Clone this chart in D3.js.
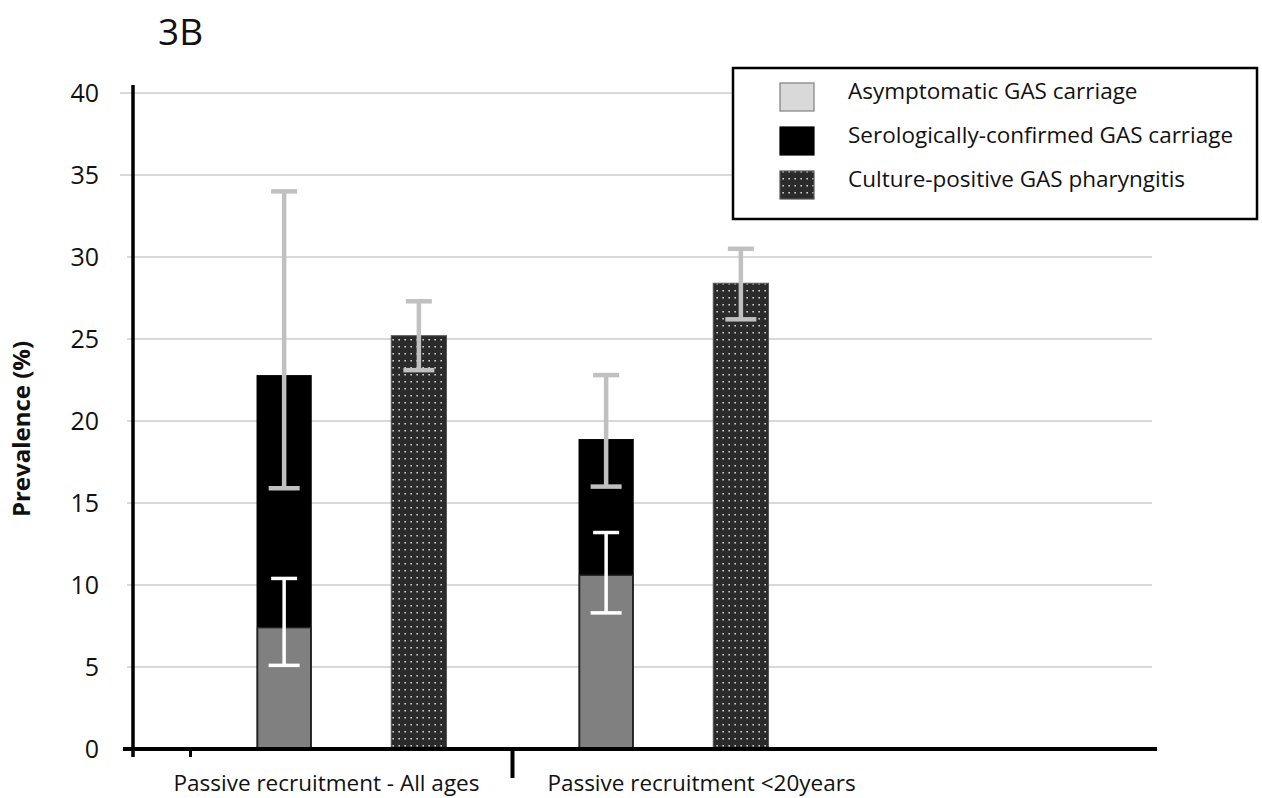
<!DOCTYPE html>
<html>
<head>
<meta charset="utf-8">
<script src="https://cdn.jsdelivr.net/npm/d3@7"></script>
<style>
  html, body { margin: 0; padding: 0; background: #fff; }
  svg { display: block; font-family: "Open Sans", "Noto Sans", sans-serif; }
</style>
</head>
<body>
<div id="chart-area"></div>
<script>
// Chart data
const groups = ['Passive recruitment - All ages', 'Passive recruitment <20years'];
const barTypes = ['carriage', 'culture'];

const asymptomatic = [7.4, 10.6];
const asymptomaticLow = [5.1, 8.3];
const asymptomaticHigh = [10.4, 13.2];

const serological = [22.8, 18.9];
const serologicalLow = [15.9, 16.0];
const serologicalHigh = [34.0, 22.8];

const culture = [25.2, 28.4];
const cultureLow = [23.1, 26.2];
const cultureHigh = [27.3, 30.5];

const yTicks = [0, 5, 10, 15, 20, 25, 30, 35, 40];
const legendLabels = ['Asymptomatic GAS carriage', 'Serologically-confirmed GAS carriage', 'Culture-positive GAS pharyngitis'];

const width = 1262;
const height = 798;

const svg = d3.select('#chart-area')
    .append('svg')
    .attr('width', width)
    .attr('height', height);

// dotted fill used for the culture bars
const defs = svg.append('defs');
const pat = defs.append('pattern')
    .attr('id', 'dots')
    .attr('patternUnits', 'userSpaceOnUse')
    .attr('width', 6)
    .attr('height', 7);
pat.append('rect').attr('width', 6).attr('height', 7).attr('fill', '#2b2b2b');
pat.append('rect').attr('x', 2.4).attr('y', 3).attr('width', 1.5).attr('height', 1.5).attr('fill', '#e0e0e0');

// scales
const yScale = d3.scaleLinear()
    .domain([0, 40])
    .range([749, 93]);

const x0 = d3.scaleBand()
    .domain(groups)
    .range([190.5, 834.5]);

const x1 = d3.scaleBand()
    .domain(barTypes)
    .range([0, x0.bandwidth()])
    .paddingInner(0.59)
    .paddingOuter(0.49);

const bw = x1.bandwidth();

// gridlines
svg.append('g')
    .selectAll('line')
    .data(yTicks.filter(d => d > 0))
    .enter()
    .append('line')
    .attr('x1', d => d >= 35 ? 120 : 127)
    .attr('x2', 1152)
    .attr('y1', d => yScale(d))
    .attr('y2', d => yScale(d))
    .attr('stroke', '#d9d9d9')
    .attr('stroke-width', 2);

// y tick labels
const yAxisCall = d3.axisLeft(yScale)
    .tickValues(yTicks)
    .tickSize(0)
    .tickPadding(0);
const yAxis = svg.append('g')
    .attr('transform', 'translate(99, 0)')
    .call(yAxisCall);
yAxis.select('.domain').remove();
yAxis.selectAll('text')
    .attr('font-family', '"Open Sans", sans-serif')
    .attr('font-size', '25px')
    .attr('fill', '#111');

// y axis title
svg.append('text')
    .attr('transform', 'translate(30, 429) rotate(-90)')
    .attr('text-anchor', 'middle')
    .attr('font-size', '24px')
    .attr('font-weight', 'bold')
    .attr('fill', '#111')
    .text('Prevalence (%)');

// chart title
svg.append('text')
    .attr('x', 158)
    .attr('y', 45)
    .attr('font-size', '37px')
    .attr('fill', '#111')
    .text('3B');

// bars
const bars = svg.append('g');
const idx = groups.map((g, i) => i);

// serologically-confirmed (black), full height
bars.selectAll('.sero')
    .data(idx)
    .enter()
    .append('rect')
    .attr('class', 'sero')
    .attr('x', i => x0(groups[i]) + x1('carriage'))
    .attr('y', i => yScale(serological[i]))
    .attr('width', bw)
    .attr('height', i => yScale(0) - yScale(serological[i]))
    .attr('fill', '#000');

// asymptomatic (grey) in front
bars.selectAll('.asym')
    .data(idx)
    .enter()
    .append('rect')
    .attr('class', 'asym')
    .attr('x', i => x0(groups[i]) + x1('carriage') + 1)
    .attr('y', i => yScale(asymptomatic[i]))
    .attr('width', bw - 2)
    .attr('height', i => yScale(0) - yScale(asymptomatic[i]))
    .attr('fill', '#808080')
    .attr('stroke', '#222')
    .attr('stroke-width', 1.5);

// culture-positive (dotted)
bars.selectAll('.cult')
    .data(idx)
    .enter()
    .append('rect')
    .attr('class', 'cult')
    .attr('x', i => x0(groups[i]) + x1('culture'))
    .attr('y', i => yScale(culture[i]))
    .attr('width', bw)
    .attr('height', i => yScale(0) - yScale(culture[i]))
    .attr('fill', 'url(#dots)')
    .attr('stroke', '#555')
    .attr('stroke-width', 1);

// error bars
function errorBars(cls, type, low, high, color, sw) {
    const g = svg.append('g').attr('class', cls);
    const cx = i => x0(groups[i]) + x1(type) + bw / 2;
    g.selectAll('.v')
        .data(idx)
        .enter()
        .append('line')
        .attr('x1', cx).attr('x2', cx)
        .attr('y1', i => yScale(low[i]))
        .attr('y2', i => yScale(high[i]))
        .attr('stroke', color)
        .attr('stroke-width', sw);
    g.selectAll('.top')
        .data(idx)
        .enter()
        .append('line')
        .attr('x1', i => cx(i) - 13).attr('x2', i => cx(i) + 13)
        .attr('y1', i => yScale(high[i]))
        .attr('y2', i => yScale(high[i]))
        .attr('stroke', color)
        .attr('stroke-width', sw);
    g.selectAll('.bot')
        .data(idx)
        .enter()
        .append('line')
        .attr('x1', i => cx(i) - 15.5).attr('x2', i => cx(i) + 15.5)
        .attr('y1', i => yScale(low[i]))
        .attr('y2', i => yScale(low[i]))
        .attr('stroke', color)
        .attr('stroke-width', sw);
}
errorBars('err-sero', 'carriage', serologicalLow, serologicalHigh, '#c0c0c0', 4.5);
errorBars('err-asym', 'carriage', asymptomaticLow, asymptomaticHigh, '#ffffff', 3.5);
errorBars('err-cult', 'culture', cultureLow, cultureHigh, '#c0c0c0', 4.5);

// axes lines
svg.append('line')
    .attr('x1', 133).attr('x2', 133)
    .attr('y1', 85).attr('y2', 757)
    .attr('stroke', '#000')
    .attr('stroke-width', 3.5);

svg.append('line')
    .attr('x1', 123).attr('x2', 1157)
    .attr('y1', yScale(0)).attr('y2', yScale(0))
    .attr('stroke', '#000')
    .attr('stroke-width', 4);

// group ticks below the axis
svg.selectAll('.gtick')
    .data(groups)
    .enter()
    .append('line')
    .attr('class', 'gtick')
    .attr('x1', d => x0(d)).attr('x2', d => x0(d))
    .attr('y1', yScale(0))
    .attr('y2', (d, i) => i === 0 ? yScale(0) + 8 : yScale(0) + 29)
    .attr('stroke', '#000')
    .attr('stroke-width', (d, i) => i === 0 ? 3 : 4);

// group labels
svg.selectAll('.glabel')
    .data(groups)
    .enter()
    .append('text')
    .attr('class', 'glabel')
    .attr('x', (d, i) => x0(d) + x0.bandwidth() / 2 + (i === 0 ? -25 : 28))
    .attr('y', 791)
    .attr('text-anchor', 'middle')
    .attr('font-size', '22.5px')
    .attr('fill', '#111')
    .text(d => d);

// legend
const legend = svg.append('g');
legend.append('rect')
    .attr('x', 733).attr('y', 68)
    .attr('width', 524).attr('height', 151)
    .attr('fill', '#fff')
    .attr('stroke', '#000')
    .attr('stroke-width', 2.5);

const legendFill = ['#d9d9d9', '#000', 'url(#dots)'];
const legendStroke = ['#7f7f7f', '#000', '#555'];
const rowY = d3.scalePoint().domain(legendLabels).range([97, 185]);

legend.selectAll('.sw')
    .data(legendLabels)
    .enter()
    .append('rect')
    .attr('x', 780)
    .attr('y', d => rowY(d) - 14)
    .attr('width', 34)
    .attr('height', 28)
    .attr('fill', (d, i) => legendFill[i])
    .attr('stroke', (d, i) => legendStroke[i])
    .attr('stroke-width', 1.2);

legend.selectAll('.lt')
    .data(legendLabels)
    .enter()
    .append('text')
    .attr('x', 848)
    .attr('y', d => rowY(d) - 7)
    .attr('dominant-baseline', 'central')
    .attr('font-size', '22.5px')
    .attr('fill', '#111')
    .text(d => d);
</script>
</body>
</html>
